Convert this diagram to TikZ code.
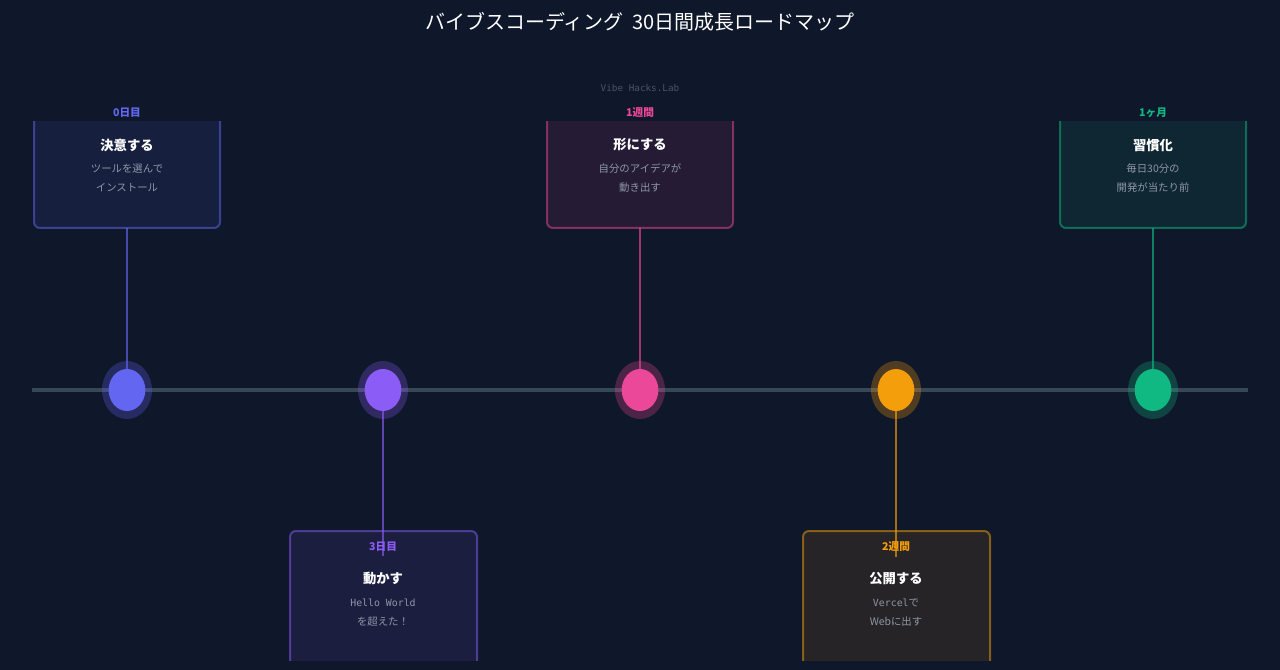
\documentclass[tikz,border=0pt]{standalone}
\usepackage{fontspec}
\setmainfont{Noto Sans CJK JP}
\newfontfamily\mono{DejaVu Sans Mono}
\usepackage{tikz}
\usetikzlibrary{positioning,shapes.geometric}
\definecolor{bgnavy}{HTML}{0F172A}
\definecolor{railgray}{HTML}{374755}
\definecolor{descgray}{HTML}{8E97A8}
\definecolor{signgray}{HTML}{475569}
\definecolor{cindigo}{HTML}{6366F1}
\definecolor{cviolet}{HTML}{8B5CF6}
\definecolor{cpink}{HTML}{EC4899}
\definecolor{camber}{HTML}{F59E0B}
\definecolor{cgreen}{HTML}{10B981}

\begin{document}
\begin{tikzpicture}[x=0.75pt, y=-0.75pt,
		card/.style={fill=#1, fill opacity=0.1, draw=#1, draw opacity=0.5,
			line width=1.5pt, rounded corners=4.5pt},
		link/.style={draw=#1, draw opacity=0.65, line width=1.1pt},
		dot/.style={ellipse, fill=#1, minimum width=27.5pt, minimum height=31.5pt,
			inner sep=0pt},
		halo/.style={fill=#1, fill opacity=0.28},
		when/.style={text=#1, font=\bfseries\fontsize{8}{9}\selectfont},
		goal/.style={text=white, font=\bfseries\fontsize{10}{12}\selectfont},
		note/.style={text=descgray, align=center,
			font=\fontsize{7.8}{14.25}\selectfont}]
	% page
	\fill[bgnavy] (0,0) rectangle (1280,670);
	\useasboundingbox (0,0) rectangle (1280,670);
	% heading
	\node[text=white, font=\fontsize{15}{18}\selectfont] (head) at (640,22)
		{バイブスコーディング\hspace{0.45em}30日間成長ロードマップ};
	\node[text=signgray, font=\mono\fontsize{7}{8}\selectfont] (sign) at (640,88)
		{Vibe Hacks.Lab};
	% cards (cut off at the top and bottom)
	\begin{scope}
		\clip (0,122) rectangle (1280,660);
		\path[card=cindigo] (34,90) rectangle (220,228);
		\path[card=cviolet] (290,531) rectangle (477,700);
		\path[card=cpink]   (547,90) rectangle (733,228);
		\path[card=camber]  (803,531) rectangle (990,700);
		\path[card=cgreen]  (1060,90) rectangle (1246,228);
	\end{scope}
	% milestone points on the rail
	\coordinate (p1) at (127,390);
	\coordinate (p2) at (383,390);
	\coordinate (p3) at (640,390);
	\coordinate (p4) at (896,390);
	\coordinate (p5) at (1153,390);
	\coordinate (b1) at (127,228);
	\coordinate (b3) at (640,228);
	\coordinate (b5) at (1153,228);
	% rail
	\coordinate (railL) at (32,390);
	\coordinate (railR) at (1248,390);
	\draw[railgray, line width=3pt] (railL) -- (railR);
	% labels
	\node[when=cindigo] (l1) at (127,113) {0日目};
	\node[when=cviolet] (l2) at (383,547) {3日目};
	\node[when=cpink]   (l3) at (640,113) {1週間};
	\node[when=camber]  (l4) at (896,547) {2週間};
	\node[when=cgreen]  (l5) at (1153,113) {1ヶ月};
	% stems
	\draw[link=cindigo] (b1) -- (p1);
	\draw[link=cviolet] (p2) -- (l2.south);
	\draw[link=cpink]   (b3) -- (p3);
	\draw[link=camber]  (p4) -- (l4.south);
	\draw[link=cgreen]  (b5) -- (p5);
	% dots
	\foreach \i/\c in {1/cindigo, 2/cviolet, 3/cpink, 4/camber, 5/cgreen}
	{\fill[halo=\c] (p\i) ellipse [x radius=25, y radius=29];
		\node[dot=\c] (m\i) at (p\i) {};}
	% card texts
	\node[goal] (t1) at (127,145) {決意する};
	\node[note] (d1) at (127,178) {ツールを選んで\\インストール};
	\node[goal] (t2) at (383,579) {動かす};
	\node[note] (d2) at (383,612.5) {{\mono\fontsize{7.4}{8}\selectfont Hello World}\\を超えた！};
	\node[goal] (t3) at (640,145) {形にする};
	\node[note] (d3) at (640,178) {自分のアイデアが\\動き出す};
	\node[goal] (t4) at (896,579) {公開する};
	\node[note] (d4) at (896,612.5) {{\mono\fontsize{7.4}{8}\selectfont Vercel}で\\Webに出す};
	\node[goal] (t5) at (1153,145) {習慣化};
	\node[note] (d5) at (1153,178) {毎日30分の\\開発が当たり前};
\end{tikzpicture}
\end{document}
